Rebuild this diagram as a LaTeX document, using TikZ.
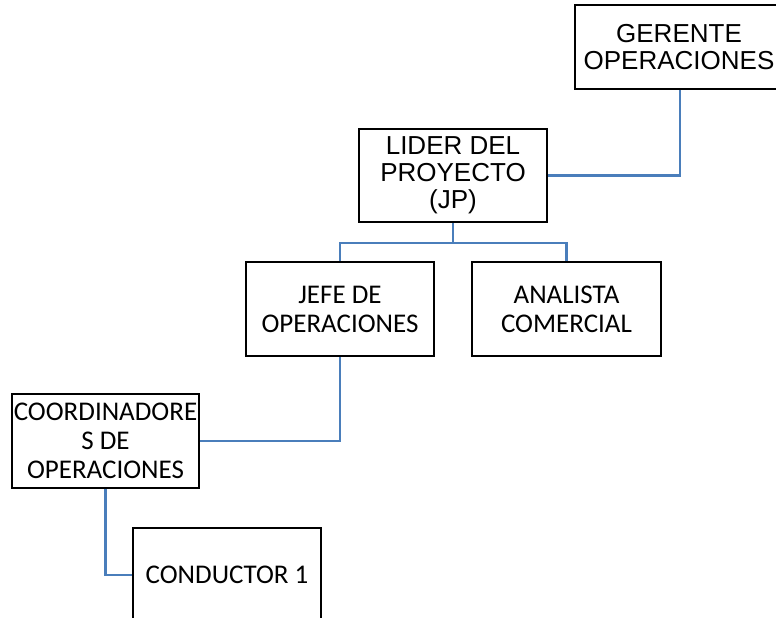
\documentclass[tikz,border=0pt]{standalone}
\usepackage{fontspec}
\setmainfont{Liberation Sans}
\newfontfamily\calfont{Carlito}
\definecolor{linkblue}{HTML}{4A7EBB}
\begin{document}
\begin{tikzpicture}[x=1pt,y=-1pt,
  orgbox/.style={draw=black,line width=2.6pt,rectangle,inner sep=0pt,align=center,text=black},
  arialtxt/.style={font=\fontsize{26}{27}\selectfont},
  calitxt/.style={font=\calfont\fontsize{27}{29}\selectfont},
  link/.style={draw=linkblue,line width=2.4pt}]
\clip (0,0) rectangle (776,618);
\fill[white] (0,0) rectangle (776,618);
\node[orgbox,arialtxt,minimum width=208pt,minimum height=84pt] (ger) at (679,47) {GERENTE\\OPERACIONES};
\node[orgbox,arialtxt,minimum width=188pt,minimum height=93pt] (lid) at (453,175.5) {LIDER DEL\\PROYECTO\\(JP)};
\node[orgbox,calitxt,minimum width=188pt,minimum height=94pt] (jef) at (340,309) {JEFE DE\\OPERACIONES};
\node[orgbox,calitxt,minimum width=189pt,minimum height=94pt] (ana) at (566.5,309) {ANALISTA\\COMERCIAL};
\node[orgbox,calitxt,minimum width=187pt,minimum height=94pt] (coo) at (105.5,441) {COORDINADORE\\S DE\\OPERACIONES};
\node[orgbox,calitxt,minimum width=188pt,minimum height=94pt] (con) at (227,575) {CONDUCTOR 1};
\coordinate (bus) at (453,243);
\draw[link] ([xshift=1pt]ger.south) |- (lid.east);
\draw[link] (lid.south) -- (bus);
\draw[link] (bus) -| (jef.north);
\draw[link] (bus) -| (ana.north);
\draw[link] (jef.south) |- (coo.east);
\draw[link] (coo.south) |- (con.west);
\end{tikzpicture}
\end{document}
